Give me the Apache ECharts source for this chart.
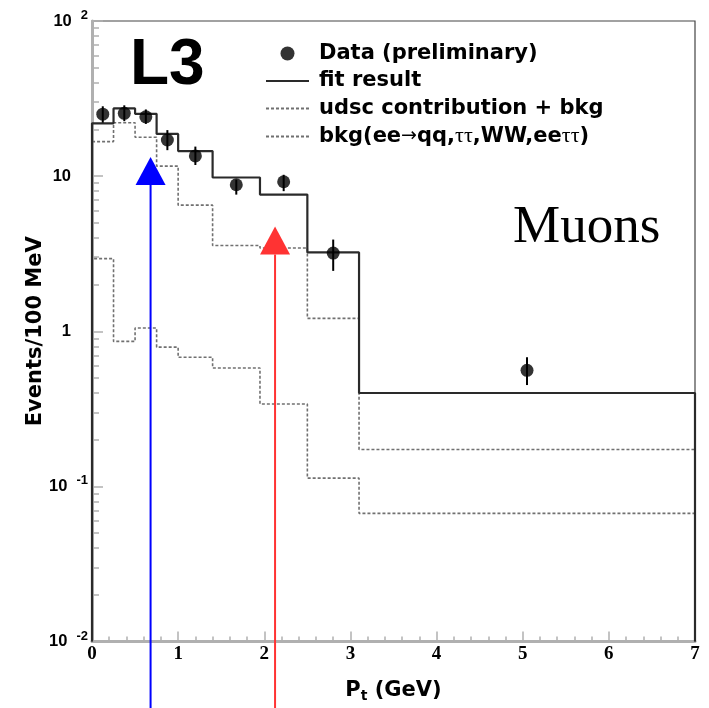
<!DOCTYPE html>
<html>
<head>
<meta charset="utf-8">
<script src="https://cdn.jsdelivr.net/npm/echarts@6/dist/echarts.min.js"></script>
<style>html,body{margin:0;padding:0;background:#fff;}#c{width:709px;height:708px;}</style>
</head>
<body>
<div id="c"></div>
<script>
// ---- data ----
var binEdges   = [0, 0.25, 0.5, 0.75, 1.0, 1.4, 1.95, 2.5, 3.1, 7];
var fitValues  = [21.9, 27.3, 25.2, 18.7, 14.5, 9.8, 7.6, 3.22, 0.40];
var udscValues = [16.7, 22.1, 17.8, 11.6, 6.5, 3.57, 3.44, 1.21, 0.173];
var bkgValues  = [2.94, 0.86, 1.05, 0.79, 0.68, 0.58, 0.34, 0.113, 0.067];
var dataX      = [0.125, 0.375, 0.625, 0.875, 1.2, 1.675, 2.225, 2.8, 5.05];
var dataY      = [25.1, 25.4, 24.1, 17.1, 13.5, 8.8, 9.2, 3.19, 0.56];
var errLow     = [22.1, 22.6, 21.7, 14.7, 11.8, 7.6, 8.0, 2.45, 0.45];
var errHigh    = [28.2, 28.6, 26.9, 19.8, 15.5, 9.5, 10.2, 3.9, 0.68];
var yTickValues = [0.01, 0.1, 1, 10, 100];
var yTickLabels = ['{b|10}{s|-2}', '{b|10}{s|-1}', '{p|1}', '{p|10}', '{b|10}{s|2}'];
var arrowX     = [0.68, 2.125];
var arrowTipY  = [13.3, 4.73];
var arrowColors = ['#0000ff', '#ff3333'];
var names = ['Data (preliminary)', 'fit result', 'udsc contribution + bkg', 'bkg(ee\u2192qq,\u03c4\u03c4,WW,ee\u03c4\u03c4)'];

var YMIN = 0.01, YMAX = 100;

function histPoints(vals) {
  var pts = [[binEdges[0], YMIN]];
  for (var i = 0; i < vals.length; i++) pts.push([binEdges[i], vals[i]]);
  pts.push([binEdges[binEdges.length - 1], vals[vals.length - 1]]);
  pts.push([binEdges[binEdges.length - 1], YMIN]);
  return pts;
}

var minorY = [];
for (var d = -2; d <= 1; d++) for (var k = 2; k <= 9; k++) minorY.push(+(k * Math.pow(10, d)).toPrecision(3));

var chart = echarts.init(document.getElementById('c'), null, {renderer: 'canvas'});
var FONT = 'DejaVu Sans';
var axisGray = '#b0b0b0';
var noSym = {color: 'rgba(0,0,0,0)', borderWidth: 0, borderColor: 'rgba(0,0,0,0)'};

var option = {
  animation: false,
  backgroundColor: '#fff',
  grid: {left: 92, top: 21, width: 603, height: 622, show: true, borderColor: '#444', borderWidth: 1.2, backgroundColor: 'transparent'},
  legend: {
    orient: 'vertical', left: 265, top: 43, padding: 0,
    itemWidth: 43, itemHeight: 14, itemGap: 6.5,
    data: [
      {name: names[0], icon: 'circle', itemStyle: {color: '#000'}},
      {name: names[1], itemStyle: noSym},
      {name: names[2], itemStyle: noSym},
      {name: names[3], itemStyle: noSym}
    ],
    textStyle: {
      fontFamily: FONT, fontWeight: 'bold', fontSize: 21, color: '#000', padding: [0, 0, 0, 5],
      rich: {
        s: {fontFamily: 'Liberation Serif', fontWeight: 'normal', fontSize: 22, color: '#000'},
        a: {fontFamily: 'DejaVu Sans', fontWeight: 'normal', fontSize: 19, color: '#000'}
      }
    },
    formatter: function (n) {
      if (n === names[3]) return 'bkg(ee{a|\u2192}qq,{s|\u03c4\u03c4},WW,ee{s|\u03c4\u03c4})';
      return n;
    }
  },
  xAxis: {
    type: 'value', min: 0, max: 7, interval: 1,
    name: 'P{t|t} (GeV)', nameLocation: 'middle', nameGap: 39,
    nameTextStyle: {fontFamily: FONT, fontWeight: 'bold', fontSize: 21, color: '#000',
      rich: {t: {fontFamily: FONT, fontWeight: 'bold', fontSize: 14, padding: [0, 0, -10, 0], color: '#000'}}},
    axisLine: {show: true, onZero: false, lineStyle: {color: axisGray, width: 3}},
    axisTick: {show: true, inside: true, length: 10, lineStyle: {color: axisGray, width: 1.5}},
    minorTick: {show: true, splitNumber: 5, length: 5, lineStyle: {color: axisGray, width: 1.5}},
    axisLabel: {fontFamily: 'Liberation Sans Narrow', fontWeight: 'bold', fontSize: 19, color: '#000', margin: 3},
    splitLine: {show: false}
  },
  yAxis: [{
    type: 'log', logBase: 10, min: YMIN, max: YMAX,
    name: 'Events/100 MeV', nameLocation: 'middle', nameGap: 46, nameRotate: 90, nameMoveOverlap: false,
    nameTextStyle: {fontFamily: FONT, fontWeight: 'bold', fontSize: 21, color: '#000'},
    axisLine: {show: true, onZero: false, lineStyle: {color: axisGray, width: 3}},
    axisTick: {show: true, inside: true, length: 11, lineStyle: {color: axisGray, width: 1.5}},
    axisLabel: {
      margin: 4,
      formatter: function (v) {
        var lv = Math.log10(v);
        for (var i = 0; i < yTickValues.length; i++) {
          if (Math.abs(Math.log10(yTickValues[i]) - lv) < 1e-6) return yTickLabels[i];
        }
        return '';
      },
      rich: {
        b: {fontFamily: 'Liberation Sans', fontWeight: 'bold', fontSize: 16.5, color: '#000'},
        p: {fontFamily: 'Liberation Sans', fontWeight: 'bold', fontSize: 16.5, color: '#000', padding: [0, 17, 0, 0]},
        s: {fontFamily: 'Liberation Sans', fontWeight: 'bold', fontSize: 13, color: '#000', padding: [0, 0, 11, 9]}
      }
    },
    splitLine: {show: false}
  }, {
    type: 'log', logBase: 10, min: YMIN, max: YMAX, position: 'left',
    axisLine: {show: false},
    axisTick: {show: true, inside: true, length: 7, customValues: minorY, lineStyle: {color: axisGray, width: 1.5}},
    axisLabel: {show: false},
    splitLine: {show: false}
  }],
  series: [
    {name: names[1], type: 'line', step: 'end', symbol: 'none', data: histPoints(fitValues),
     lineStyle: {color: '#2a2a2a', width: 2.2}, itemStyle: {color: '#2a2a2a'}, z: 3},
    {name: names[2], type: 'line', step: 'end', symbol: 'none', data: histPoints(udscValues),
     lineStyle: {color: '#707070', width: 1.6, type: [3, 2]}, itemStyle: {color: '#707070'}, z: 2},
    {name: names[3], type: 'line', step: 'end', symbol: 'none', data: histPoints(bkgValues),
     lineStyle: {color: '#707070', width: 1.6, type: [3, 2]}, itemStyle: {color: '#707070'}, z: 2},
    {name: 'errors', type: 'custom', z: 4,
     data: dataX.map(function (x, i) { return [x, errLow[i], errHigh[i]]; }),
     renderItem: function (params, api) {
       var p1 = api.coord([api.value(0), api.value(1)]);
       var p2 = api.coord([api.value(0), api.value(2)]);
       return {type: 'line', shape: {x1: p1[0], y1: p1[1], x2: p2[0], y2: p2[1]}, style: {stroke: '#000', lineWidth: 2}};
     }},
    {name: names[0], type: 'scatter', symbol: 'circle', symbolSize: 13, z: 5,
     data: dataX.map(function (x, i) { return [x, dataY[i]]; }),
     itemStyle: {color: '#000'}}
  ]
};
chart.setOption(option);

// annotations: L3, Muons, arrows positioned through the axes
var bottomPx = chart.getHeight();
var gfx = [
  {type: 'text', x: 130, y: 66, z: 10, style: {text: 'L3', font: 'bold 64px "Liberation Sans"', fill: '#000', verticalAlign: 'middle'}},
  {type: 'text', x: 513, y: 228, z: 10, style: {text: 'Muons', font: '53px "Liberation Serif"', fill: '#000', verticalAlign: 'middle'}}
];
for (var i = 0; i < arrowX.length; i++) {
  var tip = chart.convertToPixel({xAxisIndex: 0, yAxisIndex: 0}, [arrowX[i], arrowTipY[i]]);
  var baseY = tip[1] + 28;
  gfx.push({type: 'line', z: 20, shape: {x1: tip[0], y1: bottomPx, x2: tip[0], y2: baseY}, style: {stroke: arrowColors[i], lineWidth: 2}});
  gfx.push({type: 'polygon', z: 20, shape: {points: [[tip[0], tip[1]], [tip[0] - 15, baseY], [tip[0] + 15, baseY]]}, style: {fill: arrowColors[i]}});
}
chart.setOption({graphic: gfx});
</script>
</body>
</html>
